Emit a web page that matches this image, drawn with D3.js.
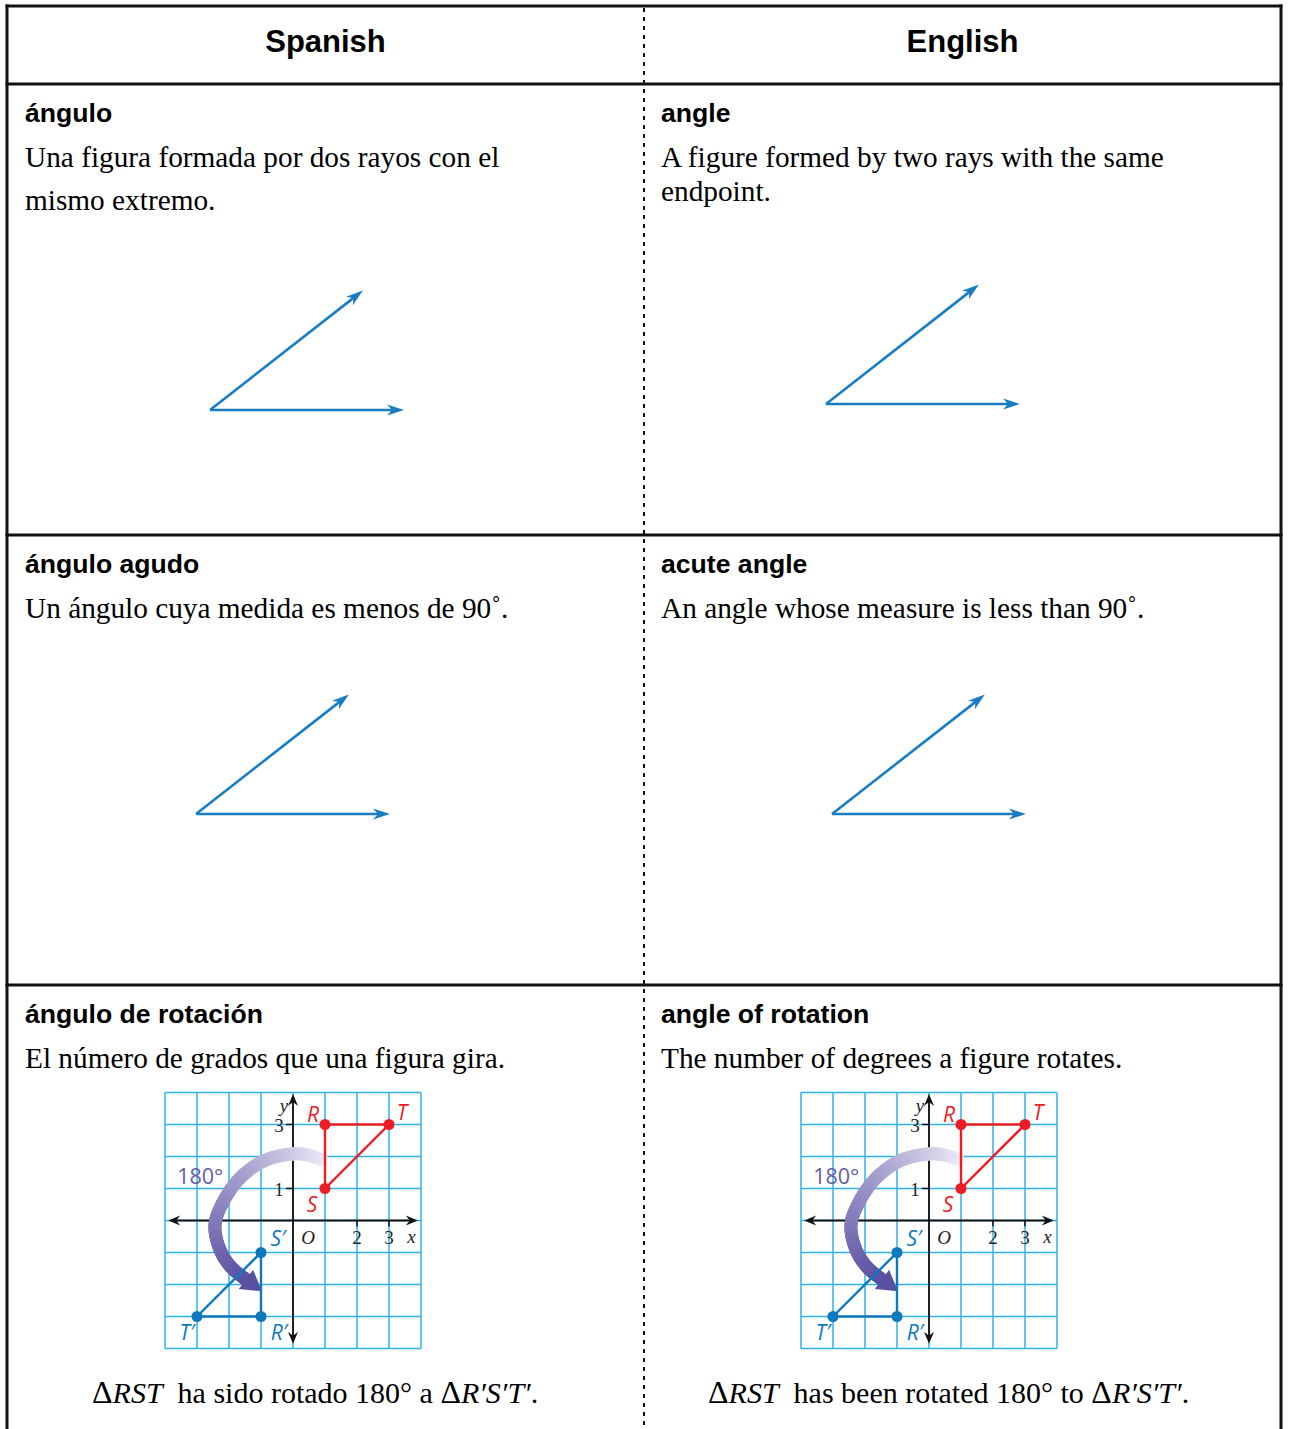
<!DOCTYPE html>
<html>
<head>
<meta charset="utf-8">
<script src="https://cdn.jsdelivr.net/npm/d3@7"></script>
<style>
  body { margin: 0; background: #fff; }
</style>
</head>
<body>
<div id="chart"></div>
<script>
// Column headers, terms and definitions
const columns = ["Spanish", "English"];
const termsEs = ["ángulo", "ángulo agudo", "ángulo de rotación"];
const termsEn = ["angle", "acute angle", "angle of rotation"];
const defsEs = [
  ["Una figura formada por dos rayos con el", "mismo extremo."],
  ["Un ángulo cuya medida es menos de 90˚."],
  ["El número de grados que una figura gira."]
];
const defsEn = [
  ["A figure formed by two rays with the same", "endpoint."],
  ["An angle whose measure is less than 90˚."],
  ["The number of degrees a figure rotates."]
];

// Angle figures: two rays, direction in degrees, unit length
const rayAngles = [0, 38];

// Rotation graph
const gridTicks = [-4, -3, -2, -1, 0, 1, 2, 3, 4];
const xTickValues = [2, 3];
const yTickValues = [1, 3];
const rstPoints = [
  {name: "R", x: 1, y: 3},
  {name: "S", x: 1, y: 1},
  {name: "T", x: 3, y: 3}
];
const rotatedPoints = [
  {name: "R′", x: -1, y: -3},
  {name: "S′", x: -1, y: -1},
  {name: "T′", x: -3, y: -3}
];
// centre line of the 180° arrow, in graph units
const arcPoints = [
  [0.97, 1.86], [0.5, 2.04], [0, 2.08], [-0.9, 1.87], [-1.7, 1.28],
  [-2.25, 0.45], [-2.44, -0.15], [-2.3, -0.87], [-1.95, -1.44], [-1.42, -1.88]
];
const arcLabel = "180°";
const captionEs = ["ha sido rotado 180° a", "RST", "R′S′T′"];
const captionEn = ["has been rotated 180° to", "RST", "R′S′T′"];

const width = 1289;
const height = 1429;
const black = "#111";
const rayBlue = "#1b7dc1";
const red = "#ed1c24";
const blue = "#0e78bd";
const cyan = "#2fb4e6";
const purpleDark = "#5a50a2";
const purpleLight = "#f5f4fb";

const svg = d3.select("#chart")
  .append("svg")
    .attr("width", width)
    .attr("height", height)
    .style("display", "block");

const colScale = d3.scaleBand().domain(columns).range([7, 1281]);
const colShift = [0, 636];
const rowTops = [84, 535, 985];
const lineGap = [43, 34];

// ---- table frame ----
const frame = svg.append("g");
frame.selectAll("line.h")
  .data([6, 84, 535, 985])
  .join("line")
    .attr("class", "h")
    .attr("x1", 5.5).attr("x2", 1282.5)
    .attr("y1", d => d).attr("y2", d => d)
    .attr("stroke", black)
    .attr("stroke-width", 3);
frame.selectAll("line.v")
  .data([7, 1281])
  .join("line")
    .attr("class", "v")
    .attr("x1", d => d).attr("x2", d => d)
    .attr("y1", 4.5).attr("y2", height)
    .attr("stroke", black)
    .attr("stroke-width", 3);
frame.append("line")
  .attr("x1", colScale("English")).attr("x2", colScale("English"))
  .attr("y1", 8).attr("y2", height)
  .attr("stroke", black)
  .attr("stroke-width", 2)
  .attr("stroke-dasharray", "4,5");

// ---- headers ----
svg.append("g").selectAll("text")
  .data(columns)
  .join("text")
    .attr("x", d => colScale(d) + colScale.bandwidth() / 2)
    .attr("y", 52)
    .attr("text-anchor", "middle")
    .style("font-family", "'Liberation Sans', Arial, sans-serif")
    .style("font-weight", "bold")
    .style("font-size", "31px")
    .text(d => d);

// ---- terms and definitions ----
[termsEs, termsEn].forEach((terms, j) => {
  const defs = j === 0 ? defsEs : defsEn;
  terms.forEach((t, i) => {
    svg.append("text")
      .attr("x", 25 + colShift[j])
      .attr("y", rowTops[i] + 38)
      .style("font-family", "'Liberation Sans', Arial, sans-serif")
      .style("font-weight", "bold")
      .style("font-size", "26.6px")
      .text(t);
    defs[i].forEach((line, k) => {
      svg.append("text")
        .attr("x", 25 + colShift[j])
        .attr("y", rowTops[i] + 83 + k * lineGap[j])
        .style("font-family", "'Liberation Serif', 'Times New Roman', serif")
        .style("font-size", "29.3px")
        .text(line);
    });
  });
});

// ---- angle figures ----
const rayLen = d3.scaleLinear().domain([0, 1]).range([0, 194]);
const angleVertices = [[[210, 410], [826, 404]], [[196, 814], [832, 814]]];

function drawAngle(vx, vy) {
  const g = svg.append("g");
  rayAngles.forEach(a => {
    const r = a * Math.PI / 180;
    const tipX = vx + rayLen(1) * Math.cos(r);
    const tipY = vy - rayLen(1) * Math.sin(r);
    const endX = vx + (rayLen(1) - 9) * Math.cos(r);
    const endY = vy - (rayLen(1) - 9) * Math.sin(r);
    g.append("line")
      .attr("x1", vx).attr("y1", vy)
      .attr("x2", endX).attr("y2", endY)
      .attr("stroke", rayBlue)
      .attr("stroke-width", 2.6);
    g.append("path")
      .attr("d", "M0,0L-17,-5.5L-12,0L-17,5.5Z")
      .attr("transform", `translate(${tipX},${tipY}) rotate(${-a})`)
      .attr("fill", rayBlue);
  });
}
angleVertices.forEach(row => row.forEach(v => drawAngle(v[0], v[1])));

// ---- rotation graphs ----
function drawGraph(ox, oy) {
  const x = d3.scaleLinear().domain([-4, 4]).range([ox - 128, ox + 128]);
  const y = d3.scaleLinear().domain([-4, 4]).range([oy + 128, oy - 128]);
  const g = svg.append("g");

  // grid
  g.append("g").selectAll("line")
    .data(gridTicks)
    .join("line")
      .attr("x1", d => x(d)).attr("x2", d => x(d))
      .attr("y1", y(-4)).attr("y2", y(4))
      .attr("stroke", cyan).attr("stroke-width", 1.5);
  g.append("g").selectAll("line")
    .data(gridTicks)
    .join("line")
      .attr("x1", x(-4)).attr("x2", x(4))
      .attr("y1", d => y(d)).attr("y2", d => y(d))
      .attr("stroke", cyan).attr("stroke-width", 1.5);

  // axes with arrowheads at both ends
  const axes = g.append("g");
  axes.append("line")
    .attr("x1", x(-3.75)).attr("x2", x(3.75))
    .attr("y1", y(0)).attr("y2", y(0))
    .attr("stroke", black).attr("stroke-width", 1.8);
  axes.append("line")
    .attr("x1", x(0)).attr("x2", x(0))
    .attr("y1", y(3.75)).attr("y2", y(-3.7))
    .attr("stroke", black).attr("stroke-width", 1.8);
  const head = "M0,0L-12,-5L-8,0L-12,5Z";
  [[x(3.9), y(0), 0], [x(-3.9), y(0), 180], [x(0), y(3.95), -90], [x(0), y(-3.85), 90]]
    .forEach(h => axes.append("path")
      .attr("d", head)
      .attr("transform", `translate(${h[0]},${h[1]}) rotate(${h[2]})`)
      .attr("fill", black));

  // ticks
  axes.selectAll("line.yt")
    .data(yTickValues)
    .join("line")
      .attr("class", "yt")
      .attr("x1", x(0) - 7).attr("x2", x(0))
      .attr("y1", d => y(d)).attr("y2", d => y(d))
      .attr("stroke", black).attr("stroke-width", 1.5);
  axes.selectAll("line.xt")
    .data(xTickValues)
    .join("line")
      .attr("class", "xt")
      .attr("x1", d => x(d)).attr("x2", d => x(d))
      .attr("y1", y(0)).attr("y2", y(0) + 6)
      .attr("stroke", black).attr("stroke-width", 1.5);

  const serif = "'Liberation Serif', 'Times New Roman', serif";
  const tickText = g.append("g")
    .style("font-family", serif)
    .style("font-size", "19px")
    .attr("fill", "#231f20")
    .attr("text-anchor", "middle")
    .attr("dominant-baseline", "central");
  tickText.selectAll("text.yl")
    .data(yTickValues)
    .join("text")
      .attr("class", "yl")
      .attr("x", x(0) - 14)
      .attr("y", d => y(d) + 1)
      .text(d => d);
  tickText.selectAll("text.xl")
    .data(xTickValues)
    .join("text")
      .attr("class", "xl")
      .attr("x", d => x(d))
      .attr("y", y(0) + 17)
      .text(d => d);
  tickText.append("text").attr("x", x(0) + 15).attr("y", y(0) + 17)
    .style("font-style", "italic").text("O");
  tickText.append("text").attr("x", x(3.7)).attr("y", y(0) + 16)
    .style("font-style", "italic").text("x");
  tickText.append("text").attr("x", x(0) - 9).attr("y", y(3.6))
    .style("font-style", "italic").text("y");

  // 180° arrow, shaded from light to dark along its length
  const arcLine = d3.line()
    .x(d => x(d[0]))
    .y(d => y(d[1]))
    .curve(d3.curveCatmullRom.alpha(0.5));
  const tmp = g.append("path").attr("d", arcLine(arcPoints)).attr("fill", "none");
  const total = tmp.node().getTotalLength();
  const n = 120;
  const pts = d3.range(n + 1).map(i => tmp.node().getPointAtLength(total * i / n));
  tmp.remove();
  const shade = d3.interpolateRgb(purpleLight, purpleDark);
  const arc = g.append("g");
  arc.selectAll("line")
    .data(d3.range(n))
    .join("line")
      .attr("x1", i => pts[i].x).attr("y1", i => pts[i].y)
      .attr("x2", i => pts[i + 1].x).attr("y2", i => pts[i + 1].y)
      .attr("stroke", i => shade(Math.pow(i / n, 0.8)))
      .attr("stroke-width", 13)
      .attr("stroke-linecap", i => i === 0 ? "butt" : "round");
  const pEnd = pts[n];
  const pPrev = pts[n - 4];
  const ang = Math.atan2(pEnd.y - pPrev.y, pEnd.x - pPrev.x) * 180 / Math.PI;
  arc.append("path")
    .attr("d", "M18,0L-2,-12L-2,12Z")
    .attr("transform", `translate(${pEnd.x},${pEnd.y}) rotate(${ang})`)
    .attr("fill", purpleDark);

  g.append("text")
    .attr("x", x(-2.9))
    .attr("y", y(1.42))
    .attr("text-anchor", "middle")
    .attr("dominant-baseline", "central")
    .style("font-family", "'Open Sans', 'Noto Sans', sans-serif")
    .style("font-size", "21.5px")
    .attr("fill", "#665ba8")
    .text(arcLabel);

  // triangles
  function tri(points, color, labelOffsets) {
    const t = g.append("g");
    t.append("path")
      .attr("d", d3.line().x(d => x(d.x)).y(d => y(d.y))(points) + "Z")
      .attr("fill", "none")
      .attr("stroke", color)
      .attr("stroke-width", 2.4)
      .attr("stroke-linejoin", "round");
    t.selectAll("circle")
      .data(points)
      .join("circle")
        .attr("cx", d => x(d.x))
        .attr("cy", d => y(d.y))
        .attr("r", 5.5)
        .attr("fill", color);
    t.selectAll("text")
      .data(points)
      .join("text")
        .attr("x", d => x(d.x) + labelOffsets[d.name][0])
        .attr("y", d => y(d.y) + labelOffsets[d.name][1])
        .attr("text-anchor", "middle")
        .attr("dominant-baseline", "central")
        .style("font-family", "'Open Sans', 'Noto Sans', sans-serif")
        .style("font-style", "italic")
        .style("font-size", "21px")
        .attr("fill", color)
        .text(d => d.name);
  }
  tri(rstPoints, red, {"R": [-12, -11], "S": [-13, 15], "T": [13, -13]});
  tri(rotatedPoints, blue, {"R′": [18, 15], "S′": [17, -15], "T′": [-10, 15]});
}
drawGraph(293, 1220.5);
drawGraph(929, 1220.5);

// ---- captions ----
[captionEs, captionEn].forEach((c, j) => {
  const t = svg.append("text")
    .attr("x", 92 + [0, 616][j])
    .attr("y", 1403)
    .style("font-family", "'Liberation Serif', 'Times New Roman', serif")
    .style("font-size", "30px");
  t.append("tspan").style("font-size", "32px").text("Δ");
  t.append("tspan").style("font-style", "italic").text(c[1]);
  t.append("tspan").text("\u00a0 " + c[0] + " ");
  t.append("tspan").style("font-size", "32px").text("Δ");
  t.append("tspan").style("font-style", "italic").text(c[2]);
  t.append("tspan").text(".");
});
</script>
</body>
</html>
